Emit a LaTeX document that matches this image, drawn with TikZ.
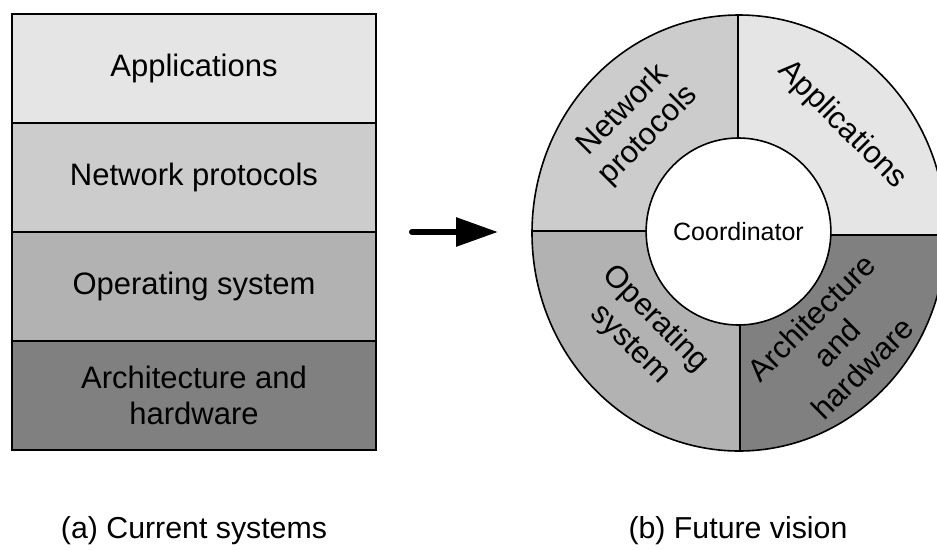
\documentclass[tikz,border=0pt]{standalone}
\usepackage{fontspec}
\setmainfont{Liberation Sans}
\usetikzlibrary{arrows.meta,shapes.geometric}
\definecolor{cA}{gray}{0.90}
\definecolor{cN}{gray}{0.80}
\definecolor{cO}{gray}{0.70}
\definecolor{cH}{gray}{0.50}
\tikzset{
  lay/.style={draw=black, line width=1.6pt, minimum width=364pt, minimum height=109pt,
    inner sep=0pt, outer sep=0pt, align=center, font=\fontsize{31}{36}\selectfont},
  ring/.style={align=center, font=\fontsize{31}{36}\selectfont, inner sep=0pt},
  captext/.style={font=\fontsize{30.3}{36}\selectfont, anchor=base, inner sep=0pt},
  divline/.style={line width=1.6pt},
  bigarrow/.style={line width=6pt, line cap=round, -{Triangle[length=42pt,width=28pt]}}
}
\begin{document}
\begin{tikzpicture}[x=1pt,y=-1pt]
\useasboundingbox (0,0) rectangle (937,549);
\fill[white] (0,0) rectangle (937,549);
% left stack
\node[lay, fill=cA] (la) at (194,68.5) {Applications};
\node[lay, fill=cN] (ln) at (194,177.5) {Network protocols};
\node[lay, fill=cO] (lo) at (194,286.5) {Operating system};
\node[lay, fill=cH] (lh) at (194,395.5) {Architecture and\\hardware};
% arrow
\coordinate (arrS) at (412,232);
\coordinate (arrE) at (498,232);
\draw[bigarrow] (arrS) -- (arrE);
% ring fills
\begin{scope}
\clip (739,233) ellipse [x radius=207, y radius=218];
\fill[cA] (738,0) rectangle (960,235);
\fill[cH] (740,235) rectangle (960,460);
\fill[cO] (500,231) rectangle (740,460);
\fill[cN] (500,0) rectangle (738,231);
\end{scope}
% dividers
\draw[divline] (738,14) -- (738,140);
\draw[divline] (740,323) -- (740,452);
\draw[divline] (531,231) -- (654,231);
\draw[divline] (823,235) -- (950,235);
\draw[divline] (739,233) ellipse [x radius=207, y radius=218];
% coordinator
\node[ellipse, draw=black, line width=1.6pt, fill=white, minimum width=173pt, minimum height=187pt,
  inner sep=0pt, font=\fontsize{25}{30}\selectfont] (coord) at (738.5,231.5) {Coordinator};
% ring labels
\node[ring, rotate=-45] (ra) at (842,125) {Applications};
\node[ring, rotate=45] (rn) at (636,123) {Network\\protocols};
\node[ring, rotate=-45] (ro) at (643,332) {Operating\\system};
\node[ring, rotate=45] (rh) at (837,343) {Architecture\\and\\hardware};
% captions
\node[captext] (capa) at (194,538) {(a) Current systems};
\node[captext] (capb) at (738,538) {(b) Future vision};
\end{tikzpicture}
\end{document}
